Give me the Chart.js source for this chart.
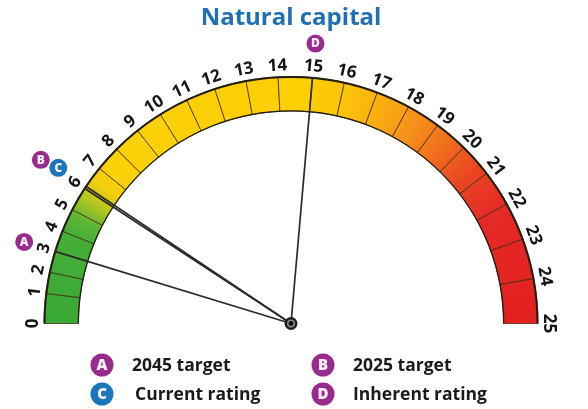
<!DOCTYPE html>
<html>
<head>
<meta charset="utf-8">
<script src="https://cdn.jsdelivr.net/npm/chart.js@4"></script>
<style>
  html, body { margin: 0; padding: 0; background: #ffffff; }
  #wrap { width: 588px; height: 409px; position: relative; }
</style>
</head>
<body>
<div id="wrap"><canvas id="c" width="588" height="409"></canvas></div>
<script>
// ---- data ----
const chartTitle = 'Natural capital';
const tickLabels = ['0','1','2','3','4','5','6','7','8','9','10','11','12','13','14','15','16','17','18','19','20','21','22','23','24','25'];
// angular extent of each unit band of the dial (unit 0-1, 1-2, ... 24-25)
const bandSpans = [7, 5, 5, 5, 5.5, 5.7, 5.8, 6, 6.5, 6.5, 7, 7, 7.5, 7.5, 8, 7.5, 8, 8, 8, 8, 8, 8.5, 9, 9.5, 10.5];
const markerLetters = ['A', 'B', 'C', 'D'];
const markerValues = [3, 6.0, 6.1, 15];
const markerNames = ['2045 target', '2025 target', 'Current rating', 'Inherent rating'];

// ---- styles ----
const purple = '#9a2b8e';
const blue = '#1b76bb';
const markerColors = [purple, purple, blue, purple];
const badgeExtra = [32, 52, 33, 34];
const gradientStops = [
  [0.00, '#3aa935'], [0.12, '#45ae37'], [0.145, '#5cb535'], [0.175, '#b5c71f'],
  [0.20, '#f3cf0c'], [0.23, '#fbd10a'], [0.52, '#fccf02'], [0.58, '#fcc20a'],
  [0.63, '#f9ab12'], [0.68, '#f68f1a'], [0.73, '#f06a1e'], [0.78, '#ea4523'],
  [0.84, '#e52a26'], [1.00, '#e2201f']
];
const FONT = '"Open Sans", "DejaVu Sans", sans-serif';

function bandFill(context) {
  const chart = context.chart;
  const area = chart.chartArea;
  if (!area) return '#fcd000';
  const ctrl = chart.getDatasetMeta(0).controller;
  const cx = (area.left + area.right) / 2 + (ctrl.offsetX || 0);
  const cy = (area.top + area.bottom) / 2 + (ctrl.offsetY || 0);
  const g = chart.ctx.createConicGradient(Math.PI, cx, cy);
  gradientStops.forEach(([t, c]) => g.addColorStop(t / 2, c));
  g.addColorStop(0.5001, '#e2201f');
  g.addColorStop(1, '#e2201f');
  return g;
}

function angleForValue(arcs, v) {
  let seg = Math.floor(v);
  if (seg > arcs.length - 1) seg = arcs.length - 1;
  if (seg < 0) seg = 0;
  const p = arcs[seg].getProps(['startAngle', 'endAngle'], true);
  const frac = v - seg;
  return p.startAngle + frac * (p.endAngle - p.startAngle);
}

function drawBadge(ctx, x, y, r, color, letter, fontSize) {
  ctx.save();
  ctx.beginPath();
  ctx.arc(x, y, r, 0, Math.PI * 2);
  ctx.fillStyle = color;
  ctx.fill();
  ctx.fillStyle = '#fdf0fa';
  ctx.font = '800 ' + fontSize + 'px ' + FONT;
  ctx.textAlign = 'center';
  ctx.textBaseline = 'middle';
  ctx.fillText(letter, x, y + 0.5);
  ctx.restore();
}

const gaugePlugin = {
  id: 'gaugeDecor',
  afterDatasetsDraw(chart) {
    const ctx = chart.ctx;
    const arcs = chart.getDatasetMeta(0).data;
    if (!arcs.length) return;
    const p0 = arcs[0].getProps(['x', 'y', 'outerRadius', 'innerRadius'], true);
    const cx = p0.x, cy = p0.y, R = p0.outerRadius, r = p0.innerRadius;

    // outline of the dial
    ctx.save();
    ctx.strokeStyle = '#231e14';
    ctx.lineWidth = 2;
    ctx.beginPath();
    ctx.arc(cx, cy, R - 0.5, Math.PI, 2 * Math.PI);
    ctx.stroke();
    ctx.lineWidth = 1.2;
    ctx.beginPath();
    ctx.arc(cx, cy, r + 0.3, Math.PI, 2 * Math.PI);
    ctx.stroke();
    ctx.restore();

    // tick labels at band boundaries
    ctx.save();
    ctx.fillStyle = '#151515';
    ctx.font = 'bold 17px ' + FONT;
    ctx.textAlign = 'center';
    ctx.textBaseline = 'middle';
    tickLabels.forEach((lab, k) => {
      let a;
      if (k < arcs.length) a = arcs[k].getProps(['startAngle'], true).startAngle;
      else a = arcs[arcs.length - 1].getProps(['endAngle'], true).endAngle;
      const lr = R + 11;
      ctx.save();
      ctx.translate(cx + lr * Math.cos(a), cy + lr * Math.sin(a));
      ctx.rotate(a + Math.PI / 2);
      ctx.fillText(lab, 0, 0);
      ctx.restore();
    });
    ctx.restore();

    // needles
    ctx.save();
    ctx.strokeStyle = '#2b2b2b';
    ctx.lineWidth = 1.7;
    ctx.lineCap = 'round';
    markerValues.forEach((v) => {
      const a = angleForValue(arcs, v);
      ctx.beginPath();
      ctx.moveTo(cx, cy);
      ctx.lineTo(cx + (R - 1) * Math.cos(a), cy + (R - 1) * Math.sin(a));
      ctx.stroke();
    });
    ctx.restore();

    // hub
    ctx.save();
    ctx.fillStyle = '#1d1d1d';
    ctx.beginPath(); ctx.arc(cx, cy, 6.5, 0, Math.PI * 2); ctx.fill();
    ctx.fillStyle = '#8a8a8a';
    ctx.beginPath(); ctx.arc(cx, cy, 4, 0, Math.PI * 2); ctx.fill();
    ctx.fillStyle = '#111';
    ctx.beginPath(); ctx.arc(cx, cy, 2.4, 0, Math.PI * 2); ctx.fill();
    ctx.restore();

    // badges around the dial
    markerValues.forEach((v, i) => {
      const a = angleForValue(arcs, v);
      const br = R + badgeExtra[i];
      drawBadge(ctx, cx + br * Math.cos(a), cy + br * Math.sin(a), 9, markerColors[i], markerLetters[i], 12);
    });
  },
  afterDraw(chart) {
    // legend: two columns, two rows
    const ctx = chart.ctx;
    const colX = [102, 323];
    const rowY = [365, 394];
    ctx.save();
    markerLetters.forEach((letter, i) => {
      const x = colX[i % 2];
      const y = rowY[Math.floor(i / 2)];
      drawBadge(ctx, x, y, 11.5, markerColors[i], letter, 15);
      ctx.fillStyle = '#1a1a1a';
      ctx.font = 'bold 17.5px ' + FONT;
      ctx.textAlign = 'left';
      ctx.textBaseline = 'middle';
      ctx.fillText(markerNames[i], x + (i === 2 ? 33 : 30), y + 1);
    });
    ctx.restore();
  }
};

new Chart(document.getElementById('c'), {
  type: 'doughnut',
  data: {
    labels: tickLabels.slice(0, bandSpans.length).map((t, i) => t + '-' + tickLabels[i + 1]),
    datasets: [{
      data: bandSpans,
      backgroundColor: bandFill,
      borderColor: 'rgba(60, 40, 5, 0.75)',
      borderWidth: 1,
      hoverOffset: 0
    }]
  },
  options: {
    responsive: false,
    animation: false,
    events: [],
    rotation: -90,
    circumference: 180,
    cutout: '86%',
    layout: { padding: { top: 0, left: 43, right: 49, bottom: 85 } },
    plugins: {
      legend: { display: false },
      tooltip: { enabled: false },
      title: {
        display: true,
        text: chartTitle,
        color: '#1f6fb4',
        font: { family: FONT, size: 24, weight: 'bold' },
        padding: { top: 4, bottom: 43.2 }
      }
    }
  },
  plugins: [gaugePlugin]
});
</script>
</body>
</html>
